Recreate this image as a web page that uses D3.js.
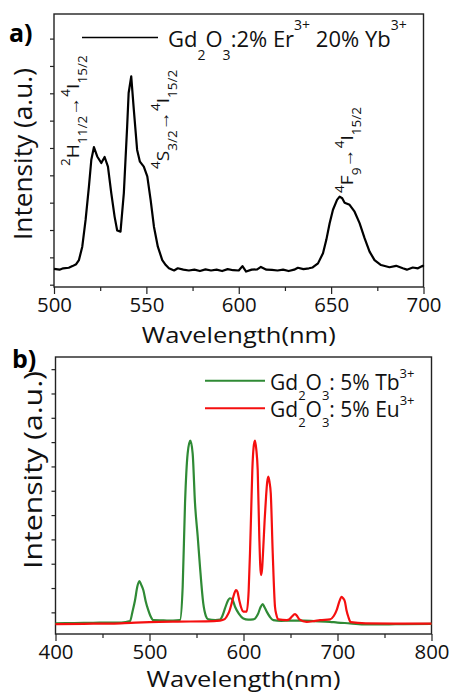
<!DOCTYPE html>
<html>
<head>
<meta charset="utf-8">
<script src="https://cdn.jsdelivr.net/npm/d3@7"></script>
<style>
  body { margin: 0; background: #fff; }
  svg { display: block; font-family: "Open Sans", sans-serif; }
</style>
</head>
<body>
<div class="board"></div>
<script>
/*
=================================
DATA
=================================
*/
// panel a : Gd2O3:2% Er3+ 20% Yb3+ upconversion
var erWave = [500, 503, 505, 508, 510, 512, 513.5, 515.3, 517.1, 518.9, 520.2, 521.6, 523.4, 525.6, 527.4, 529.2, 531, 532.8, 534.2, 536, 537.8, 539.6, 540.4, 541.8, 543.2, 545, 546.5, 548.6, 550.5, 552.3, 554.1, 556.2, 558.6, 560.5, 562.2, 565, 567, 570, 573, 576, 579, 582, 585, 588, 591, 594, 597, 600, 602, 604, 607, 610, 612, 615, 618, 621, 624, 627, 630, 632, 635, 638, 640, 642.9, 645.6, 647.4, 649.2, 651, 653.2, 654.6, 656, 657.3, 660, 662.7, 665.4, 668.1, 670.8, 673.5, 677, 681.6, 685.2, 688.8, 691, 694.2, 697, 699.6, 700];
var erVal = [0.58, 0.55, 0.6, 0.62, 0.68, 0.75, 0.9, 1.39, 2.37, 3.59, 4.57, 5.03, 4.69, 4.45, 4.67, 4.32, 3.35, 2.49, 1.98, 1.94, 3.35, 5.79, 7.01, 7.62, 6.4, 4.93, 4.5, 4.32, 3.96, 3.1, 2.12, 1.39, 0.9, 0.72, 0.6, 0.52, 0.6, 0.55, 0.52, 0.55, 0.5, 0.56, 0.52, 0.55, 0.5, 0.57, 0.53, 0.52, 0.68, 0.48, 0.55, 0.56, 0.65, 0.55, 0.54, 0.52, 0.55, 0.5, 0.55, 0.62, 0.57, 0.6, 0.63, 0.78, 1.15, 1.64, 2.25, 2.74, 3.1, 3.22, 3.16, 3.0, 2.92, 2.67, 2.25, 1.7, 1.21, 0.9, 0.72, 0.64, 0.69, 0.6, 0.55, 0.63, 0.6, 0.69, 0.66];

// panel b : Tb3+ (green) and Eu3+ (red)
var tbWave = [400, 420, 440, 460, 470, 479.3, 482, 484.6, 487, 489.2, 491, 493.4, 496, 498.7, 501, 504, 515, 525, 532.4, 535.3, 537.8, 540.6, 543.4, 545.9, 548.4, 551.3, 553.7, 557.2, 560, 562.6, 570, 575, 578, 580.3, 583, 585.6, 588.5, 591, 595, 599.8, 605, 610.4, 615.7, 618, 620.4, 622.5, 624.7, 628, 631.7, 640, 650, 663.6, 675, 692, 700, 713.3, 730, 750, 770, 800];
var tbVal = [-0.45, -0.44, -0.43, -0.42, -0.42, -0.36, 0.05, 0.5, 1.05, 1.29, 1.15, 0.92, 0.45, 0.09, -0.15, -0.32, -0.33, -0.34, -0.32, 1.05, 4.49, 6.54, 7.06, 6.54, 4.49, 3.11, 1.88, 0.37, -0.15, -0.29, -0.32, -0.3, -0.1, 0.16, 0.45, 0.58, 0.5, 0.23, -0.05, -0.25, -0.3, -0.29, -0.04, 0.2, 0.34, 0.2, 0.03, -0.18, -0.32, -0.35, -0.34, -0.34, -0.36, -0.39, -0.42, -0.45, -0.5, -0.5, -0.48, -0.47];
var euWave = [400, 430, 460, 480, 500, 530, 560, 575, 580, 582, 585, 587.4, 590, 592, 593.5, 595.5, 597.5, 599.8, 603.4, 605.5, 606.9, 608.2, 609.4, 610.8, 612.2, 613.6, 615.1, 616.8, 618.6, 619.8, 621.1, 622.5, 624, 625.2, 626.4, 627.7, 629, 631.1, 633.5, 635, 637.1, 646, 649, 651.3, 654.8, 657, 659.4, 667.2, 675, 681.4, 692, 696, 699.1, 702, 704.4, 706, 707.9, 709.5, 711.5, 714, 730, 760, 800];
var euVal = [-0.48, -0.47, -0.46, -0.43, -0.4, -0.38, -0.37, -0.34, -0.28, -0.18, 0.05, 0.37, 0.75, 0.92, 0.85, 0.5, 0.2, 0.03, 0.03, 0.9, 2.43, 4.2, 5.86, 6.8, 7.06, 6.7, 5.86, 3.11, 1.53, 1.8, 2.7, 3.8, 4.76, 5.35, 5.58, 5.35, 4.9, 2.43, 0.23, -0.1, -0.29, -0.32, -0.28, -0.18, -0.07, -0.15, -0.29, -0.39, -0.36, -0.32, -0.29, -0.15, 0.09, 0.45, 0.64, 0.58, 0.44, 0.1, -0.18, -0.4, -0.45, -0.46, -0.46];

var aMajorTicks = [500, 550, 600, 650, 700];
var aMinorTicks = [525, 575, 625, 675];
var aYTicks = [0, 1, 2, 3, 4, 5, 6, 7, 8, 9];
var bMajorTicks = [400, 500, 600, 700, 800];
var bMinorTicks = [450, 550, 650, 750];
var bYTicks = [0, 1, 2, 3, 4, 5, 6, 7, 8, 9, 10];

var green = '#2f8a35';
var red = '#f50f0f';

/*
=================================
CONTAINER
=================================
*/
var svg = d3.select('.board').append('svg')
            .attr('width', 451)
            .attr('height', 692);

var zip = (xs, ys) => xs.map((x, i) => [x, ys[i]]);

// builds tspans with sub/superscripts, parts = [[text, 'n'|'sub'|'sup'], ...]
var richText = function(sel, parts, size, small, supShift, subShift) {
  var cur = 0;
  parts.forEach(function(p) {
    var target = p[1] === 'sup' ? -supShift : p[1] === 'sub' ? subShift : 0;
    sel.append('tspan')
       .attr('dy', target - cur)
       .attr('font-size', p[1] === 'n' ? size : small)
       .text(p[0]);
    cur = target;
  });
};

var drawFrame = function(x, y, major, minor, yTicks, opts) {
  var g = svg.append('g');

  g.append('g')
   .attr('transform', 'translate(0,' + y.range()[0] + ')')
   .call(d3.axisBottom(x).tickValues(minor).tickSize(4).tickFormat(''));

  g.append('g')
   .attr('transform', 'translate(0,' + y.range()[0] + ')')
   .call(d3.axisBottom(x).tickValues(major).tickSize(7).tickPadding(4).tickFormat(d3.format('d')))
   .selectAll('text')
   .attr('font-size', opts.tickFont)
   .attr('textLength', 35)
   .attr('lengthAdjust', 'spacingAndGlyphs')
   .attr('fill', '#111');

  g.append('g')
   .attr('transform', 'translate(' + x.range()[0] + ',0)')
   .call(d3.axisLeft(y).tickValues(yTicks).tickSize(4).tickFormat(''));

  g.selectAll('.domain').remove();
  g.selectAll('.tick line').attr('stroke', '#222').attr('stroke-width', 1.2);
  g.selectAll('.tick text').attr('font-family', '"Open Sans", sans-serif');

  g.append('rect')
   .attr('x', x.range()[0])
   .attr('y', y.range()[1])
   .attr('width', x.range()[1] - x.range()[0])
   .attr('height', y.range()[0] - y.range()[1])
   .attr('fill', 'none')
   .attr('stroke', '#222')
   .attr('stroke-width', 1.4);

  // axis titles
  svg.append('text')
     .attr('x', (x.range()[0] + x.range()[1]) / 2)
     .attr('y', opts.xTitleY)
     .attr('text-anchor', 'middle')
     .attr('font-size', opts.titleFont)
     .attr('textLength', 194)
     .attr('lengthAdjust', 'spacingAndGlyphs')
     .attr('fill', '#111')
     .text('Wavelength(nm)');

  svg.append('text')
     .attr('transform', 'translate(' + opts.yTitleX + ',' + opts.yTitleCY + ') rotate(-90)')
     .attr('text-anchor', 'middle')
     .attr('font-size', opts.yTitleFont)
     .attr('textLength', opts.yTitleLen)
     .attr('lengthAdjust', 'spacingAndGlyphs')
     .attr('fill', '#111')
     .text('Intensity (a.u.)');

  svg.append('text')
     .attr('x', opts.tagX)
     .attr('y', opts.tagY)
     .attr('font-size', 25)
     .attr('font-weight', 'bold')
     .attr('fill', '#000')
     .text(opts.tag);
};

/*
=================================
PANEL A
=================================
*/
var xA = d3.scaleLinear().domain([500, 700]).range([54, 423.5]);
var yA = d3.scaleLinear().domain([-0.084, 9.9]).range([287, 14]);

drawFrame(xA, yA, aMajorTicks, aMinorTicks, aYTicks, {
  tickFont: 20, titleFont: 22, xTitleY: 343,
  yTitleX: 32, yTitleCY: 154, yTitleFont: 25, yTitleLen: 172,
  tag: 'a)', tagX: 9, tagY: 42
});

var lineA = d3.line().x(d => xA(d[0])).y(d => yA(d[1]));

svg.append('path')
   .datum(zip(erWave, erVal))
   .attr('d', lineA)
   .attr('fill', 'none')
   .attr('stroke', '#000')
   .attr('stroke-width', 2.2)
   .attr('stroke-linejoin', 'round');

// legend a
svg.append('line')
   .attr('x1', 82).attr('x2', 158)
   .attr('y1', 37.5).attr('y2', 37.5)
   .attr('stroke', '#000').attr('stroke-width', 1.6);

richText(svg.append('text').attr('x', 168).attr('y', 47).attr('fill', '#111'),
  [['Gd', 'n'], ['2', 'sub'], ['O', 'n'], ['3', 'sub'], [':2% Er', 'n'], ['3+', 'sup'],
   [' 20% Yb', 'n'], ['3+', 'sup']], 22, 14, 17, 13);

// transition labels, rotated and stretched along the text
var transLabels = [
  { x: 79, y: 166, parts: [['2', 'sup'], ['H', 'n'], ['11/2', 'sub'], ['\u2192', 'n'], ['4', 'sup'], ['I', 'n'], ['15/2', 'sub']] },
  { x: 169, y: 169, parts: [['4', 'sup'], ['S', 'n'], ['3/2', 'sub'], ['\u2192', 'n'], ['4', 'sup'], ['I', 'n'], ['15/2', 'sub']] },
  { x: 353, y: 193, parts: [['4', 'sup'], ['F', 'n'], ['9', 'sub'], ['\u2192', 'n'], ['4', 'sup'], ['I', 'n'], ['15/2', 'sub']] }
];

transLabels.forEach(function(l) {
  var t = svg.append('text')
             .attr('transform', 'translate(' + l.x + ',' + l.y + ') rotate(-90) scale(1.13,1)')
             .attr('fill', '#111');
  richText(t, l.parts, 17, 12, 9, 8);
});

/*
=================================
PANEL B
=================================
*/
var xB = d3.scaleLinear().domain([400, 800]).range([55.5, 431.5]);
var yB = d3.scaleLinear().domain([-0.89, 10.5]).range([634, 357]);

drawFrame(xB, yB, bMajorTicks, bMinorTicks, bYTicks, {
  tickFont: 20, titleFont: 21, xTitleY: 687,
  yTitleX: 42, yTitleCY: 470, yTitleFont: 25, yTitleLen: 198,
  tag: 'b)', tagX: 12, tagY: 368
});

var lineB = d3.line().x(d => xB(d[0])).y(d => yB(d[1])).curve(d3.curveMonotoneX);

svg.append('path')
   .datum(zip(tbWave, tbVal))
   .attr('d', lineB)
   .attr('fill', 'none')
   .attr('stroke', green)
   .attr('stroke-width', 2.2);

svg.append('path')
   .datum(zip(euWave, euVal))
   .attr('d', lineB)
   .attr('fill', 'none')
   .attr('stroke', red)
   .attr('stroke-width', 2.2);

// legend b
var legB = [
  { color: green, y: 380.7, ion: 'Tb' },
  { color: red, y: 408.3, ion: 'Eu' }
];

legB.forEach(function(l) {
  svg.append('line')
     .attr('x1', 205).attr('x2', 265)
     .attr('y1', l.y).attr('y2', l.y)
     .attr('stroke', l.color).attr('stroke-width', 2);
  richText(svg.append('text').attr('x', 270).attr('y', l.y + 9).attr('fill', '#111'),
    [['Gd', 'n'], ['2', 'sub'], ['O', 'n'], ['3', 'sub'], [': 5% ' + l.ion, 'n'], ['3+', 'sup']],
    21, 13, 12, 10);
});
</script>
</body>
</html>
